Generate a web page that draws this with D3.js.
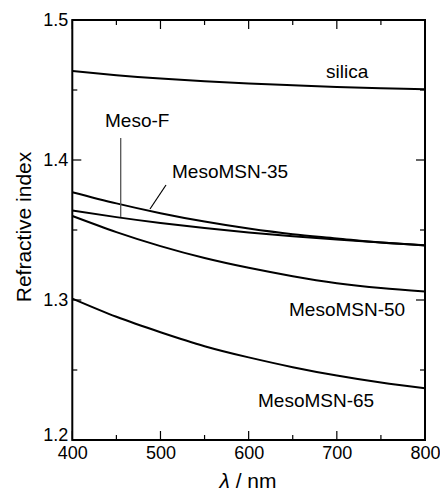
<!DOCTYPE html>
<html><head><meta charset="utf-8">
<script src="https://cdn.jsdelivr.net/npm/d3@7"></script>
<style>body{margin:0;background:#fff}svg{display:block;font-family:"Liberation Sans",Arial,sans-serif}</style>
</head><body><div id="chart"></div>
<script>
const wavelengths = [400,450,500,550,600,650,700,750,800];
const silica     = [1.4636,1.4606,1.4582,1.4563,1.4547,1.4534,1.4522,1.4513,1.4506];
const mesoF      = [1.364,1.3592,1.3550,1.3514,1.3483,1.3456,1.3432,1.3410,1.3390];
const mesoMSN35  = [1.377,1.369,1.362,1.356,1.351,1.347,1.344,1.341,1.339];
const mesoMSN50  = [1.360,1.3485,1.3385,1.3300,1.3230,1.3170,1.3120,1.3085,1.3060];
const mesoMSN65  = [1.301,1.288,1.277,1.267,1.259,1.252,1.246,1.241,1.237];
const xTicks = [400,500,600,700,800];
const yTicks = [1.2,1.3,1.4,1.5];

const W=440,H=492, L=72.3, R=425, T=20, B=440;
const svg=d3.select("#chart").append("svg").attr("width",W).attr("height",H);
const x=d3.scaleLinear().domain([400,800]).range([L,R]);
const y=d3.scaleLinear().domain([1.2,1.5]).range([B,T]);

const line=d3.line().x((d,i)=>x(wavelengths[i])).y(d=>y(d)).curve(d3.curveNatural);
[silica,mesoF,mesoMSN35,mesoMSN50,mesoMSN65].forEach(s=>{
  svg.append("path").attr("d",line(s)).attr("fill","none").attr("stroke","#000").attr("stroke-width",2);
});

// frame
svg.append("rect").attr("x",L).attr("y",T).attr("width",R-L).attr("height",B-T)
  .attr("fill","none").attr("stroke","#000").attr("stroke-width",2);

const minorX=d3.range(400,801,50), minorY=d3.range(1.2,1.5001,0.05);
const tk=svg.append("g").attr("stroke","#000").attr("stroke-width",1.2);
minorX.forEach(v=>{
  const len = (v%100===0)?9:5;
  tk.append("line").attr("x1",x(v)).attr("x2",x(v)).attr("y1",B).attr("y2",B-len);
  tk.append("line").attr("x1",x(v)).attr("x2",x(v)).attr("y1",T).attr("y2",T+len);
});
minorY.forEach(v=>{
  const major = Math.abs(Math.round(v*10)-v*10)<1e-6;
  const len = major?9:5;
  tk.append("line").attr("x1",L).attr("x2",L+len).attr("y1",y(v)).attr("y2",y(v));
  tk.append("line").attr("x1",R).attr("x2",R-len).attr("y1",y(v)).attr("y2",y(v));
});

const xAxis=svg.append("g").attr("transform",`translate(0,${B})`)
  .call(d3.axisBottom(x).tickValues(xTicks).tickSize(0).tickPadding(6).tickFormat(d3.format("d")));
xAxis.select(".domain").remove();
xAxis.selectAll("text").attr("font-size",18).attr("fill","#000").attr("font-family","Liberation Sans, Arial, sans-serif");

const yAxis=svg.append("g").attr("transform",`translate(${L},0)`)
  .call(d3.axisLeft(y).tickValues(yTicks).tickSize(0).tickPadding(4).tickFormat(d3.format(".1f")));
yAxis.select(".domain").remove();
yAxis.selectAll("text").attr("font-size",18).attr("fill","#000").attr("font-family","Liberation Sans, Arial, sans-serif");
yAxis.selectAll(".tick").filter(d=>d===1.2).select("text").attr("dy","0.05em");

svg.append("text").attr("transform","translate(31,227) rotate(-90)").attr("text-anchor","middle")
  .attr("font-size",21).text("Refractive index");
const xt=svg.append("text").attr("x",248).attr("y",488).attr("text-anchor","middle").attr("font-size",21);
xt.append("tspan").attr("font-style","italic").text("λ");
xt.append("tspan").text(" / nm");

const lab=(t,xx,yy)=>svg.append("text").attr("x",xx).attr("y",yy).attr("font-size",19).text(t);
lab("silica",326,78);
lab("Meso-F",105,127);
lab("MesoMSN-35",172,178);
lab("MesoMSN-50",289,316);
lab("MesoMSN-65",258,407);

svg.append("line").attr("x1",120.7).attr("x2",120.7).attr("y1",138).attr("y2",217)
  .attr("stroke","#555").attr("stroke-width",1.3);
svg.append("line").attr("x1",166).attr("x2",150).attr("y1",185).attr("y2",209)
  .attr("stroke","#000").attr("stroke-width",1.2);
</script></body></html>
